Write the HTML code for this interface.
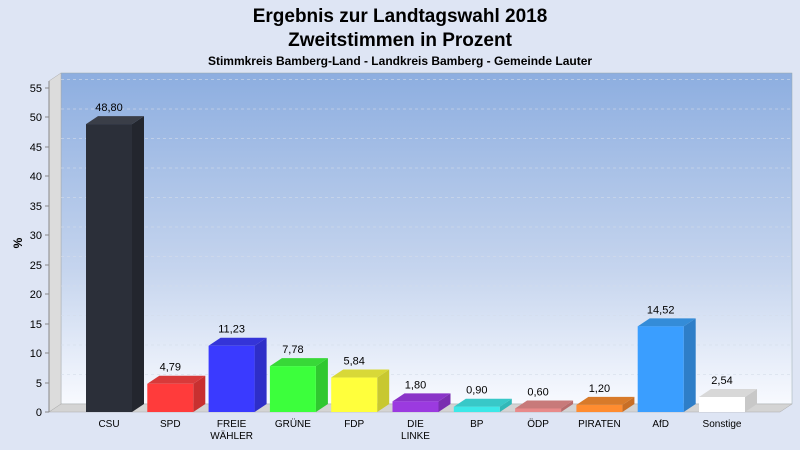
<!DOCTYPE html>
<html><head><meta charset="utf-8"><style>body{margin:0;background:#dee5f4}svg{display:block;font-family:"Liberation Sans",sans-serif}</style></head><body>
<svg width="800" height="450" viewBox="0 0 800 450">
<defs><linearGradient id="bg" x1="0" y1="0" x2="0" y2="1"><stop offset="0" stop-color="#8daee0"/><stop offset="0.6" stop-color="#c6d5ee"/><stop offset="1" stop-color="#f8faff"/></linearGradient></defs>
<rect width="800" height="450" fill="#dee5f4"/>
<text x="400" y="22" font-size="19" font-weight="bold" text-anchor="middle">Ergebnis zur Landtagswahl 2018</text>
<text x="400" y="46" font-size="19" font-weight="bold" text-anchor="middle">Zweitstimmen in Prozent</text>
<text x="400" y="65" font-size="12" font-weight="bold" text-anchor="middle">Stimmkreis Bamberg-Land - Landkreis Bamberg - Gemeinde Lauter</text>
<rect x="61" y="73" width="731" height="331" fill="url(#bg)" stroke="#9aa" stroke-width="0.5"/>
<polygon points="49,81 61,73 61,404 49,412" fill="#dcdcdc" stroke="#aaa" stroke-width="0.5"/>
<polygon points="49,412 61,404 792,404 780,412" fill="#d4d4d4" stroke="#aaa" stroke-width="0.5"/>
<g stroke="#d4dcea" stroke-opacity="0.6" stroke-dasharray="3,3" stroke-width="1">
<line x1="61" y1="79.5" x2="792" y2="79.5"/><line x1="61" y1="109" x2="792" y2="109"/><line x1="61" y1="138.5" x2="792" y2="138.5"/><line x1="61" y1="168" x2="792" y2="168"/><line x1="61" y1="197.5" x2="792" y2="197.5"/><line x1="61" y1="227" x2="792" y2="227"/><line x1="61" y1="256.5" x2="792" y2="256.5"/><line x1="61" y1="286" x2="792" y2="286"/><line x1="61" y1="315.5" x2="792" y2="315.5"/><line x1="61" y1="345" x2="792" y2="345"/><line x1="61" y1="374.5" x2="792" y2="374.5"/>
</g>
<line x1="49" y1="81" x2="49" y2="412" stroke="#888"/>
<g font-size="11" text-anchor="end">
<text x="42" y="92">55</text><text x="42" y="121">50</text><text x="42" y="151">45</text><text x="42" y="180">40</text><text x="42" y="210">35</text><text x="42" y="239">30</text><text x="42" y="269">25</text><text x="42" y="298">20</text><text x="42" y="328">15</text><text x="42" y="357">10</text><text x="42" y="387">5</text><text x="42" y="416">0</text>
</g>
<g stroke="#888"><line x1="45" y1="88" x2="49" y2="88"/><line x1="45" y1="117" x2="49" y2="117"/><line x1="45" y1="147" x2="49" y2="147"/><line x1="45" y1="176" x2="49" y2="176"/><line x1="45" y1="206" x2="49" y2="206"/><line x1="45" y1="235" x2="49" y2="235"/><line x1="45" y1="265" x2="49" y2="265"/><line x1="45" y1="294" x2="49" y2="294"/><line x1="45" y1="324" x2="49" y2="324"/><line x1="45" y1="353" x2="49" y2="353"/><line x1="45" y1="383" x2="49" y2="383"/><line x1="45" y1="412" x2="49" y2="412"/></g>
<text x="22" y="243" font-size="12" font-weight="bold" transform="rotate(-90 22 243)" text-anchor="middle">%</text>
<g id="bars"></g>
<g font-size="10" text-anchor="middle" id="labels"></g>
</svg>
<script>
var d=[["CSU",48.80,"#2b2f39","#23262e","#3a3e48"],["SPD",4.79,"#ff3b3b","#c83030","#d83a3a"],["FREIE|WÄHLER",11.23,"#3a3aff","#2e2ec8","#3434d8"],["GRÜNE",7.78,"#3cff3c","#30c830","#38d838"],["FDP",5.84,"#ffff3c","#c8c830","#d8d838"],["DIE|LINKE",1.80,"#9b3ae0","#7a2eb0","#8a34c8"],["BP",0.90,"#3ce8e8","#30b8b8","#38c8c8"],["ÖDP",0.60,"#e88a8a","#b86c6c","#c87a7a"],["PIRATEN",1.20,"#ff8c30","#c86e26","#d87a2a"],["AfD",14.52,"#3a9eff","#2e7ec8","#348cd8"],["Sonstige",2.54,"#ffffff","#c8c8c8","#d8d8d8"]];
var ns="http://www.w3.org/2000/svg",g=document.getElementById("bars"),L=document.getElementById("labels");
function el(t,a,p){var e=document.createElementNS(ns,t);for(var k in a)e.setAttribute(k,a[k]);p.appendChild(e);return e;}
d.forEach(function(b,i){var c=109+i*61.3,x0=c-23,x1=c+23,y=412-b[1]*5.9;
el("polygon",{points:x1+",412 "+(x1+12)+",404 "+(x1+12)+","+(y-8)+" "+x1+","+y,fill:b[3]},g);
el("polygon",{points:x0+","+y+" "+(x0+12)+","+(y-8)+" "+(x1+12)+","+(y-8)+" "+x1+","+y,fill:b[4]},g);
el("rect",{x:x0,y:y,width:46,height:412-y,fill:b[2]},g);
var t=el("text",{x:c,y:y-13,"font-size":"11"},L);t.textContent=b[1].toFixed(2).replace(".",",");
b[0].split("|").forEach(function(s,j){var u=el("text",{x:c,y:427+j*12},L);u.textContent=s;});
});
</script>
</body></html>
